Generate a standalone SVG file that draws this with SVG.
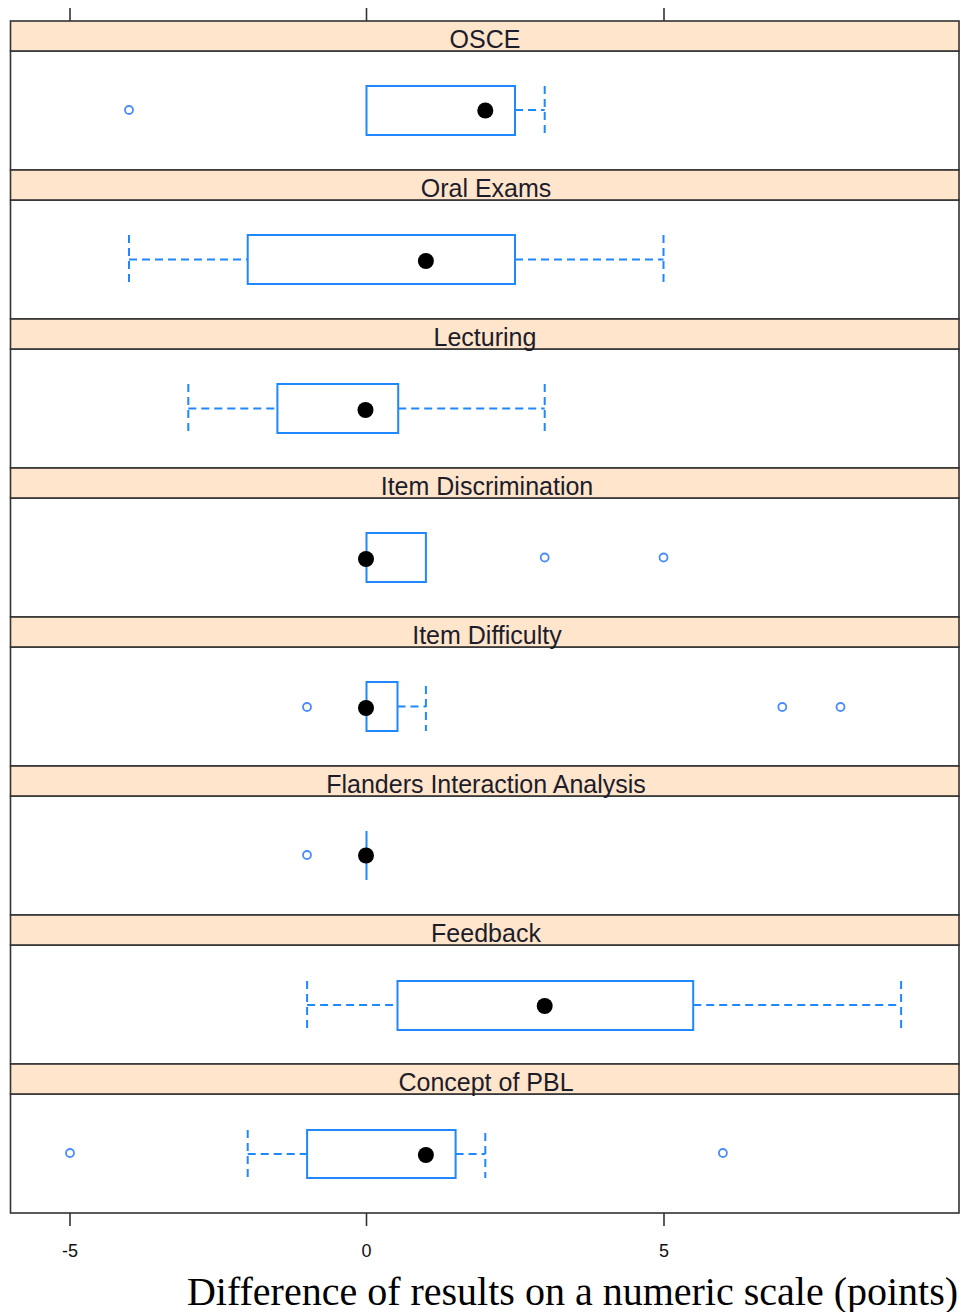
<svg xmlns="http://www.w3.org/2000/svg" width="961" height="1312" viewBox="0 0 961 1312">
<style>
.strip{fill:#FFE5CC;stroke:#333;stroke-width:1.6}
.panel{fill:#fff;stroke:#333;stroke-width:1.6}
.lab{font-family:"Liberation Sans",Arial,sans-serif;font-size:25px;fill:#1c1c2a;text-anchor:middle}
.box{fill:none;stroke:#1f88ff;stroke-width:2}
.wh{fill:none;stroke:#1f88ff;stroke-width:2;stroke-dasharray:8,5}
.out{fill:none;stroke:#4a8cff;stroke-width:1.8}
.med{fill:#000}
.tick{stroke:#333;stroke-width:1.6}
.tl{font-family:"Liberation Sans",Arial,sans-serif;font-size:18px;fill:#111;text-anchor:middle}
.title{font-family:"Liberation Serif","Times New Roman",serif;font-size:40px;fill:#000;text-anchor:middle}
</style>
<rect width="961" height="1312" fill="#fff"/>
<g id="axes">
<line class="tick" x1="70" y1="8" x2="70" y2="21"/>
<line class="tick" x1="366.5" y1="8" x2="366.5" y2="21"/>
<line class="tick" x1="664" y1="8" x2="664" y2="21"/>
<line class="tick" x1="70" y1="1213" x2="70" y2="1226"/>
<line class="tick" x1="366.5" y1="1213" x2="366.5" y2="1226"/>
<line class="tick" x1="664" y1="1213" x2="664" y2="1226"/>
<text class="tl" x="70" y="1257">-5</text>
<text class="tl" x="366.5" y="1257">0</text>
<text class="tl" x="664" y="1257">5</text>
<text class="title" x="572.5" y="1305">Difference of results on a numeric scale (points)</text>
</g>

<g id="panel-osce">
<rect class="panel" x="10.5" y="51" width="948.5" height="119"/>
<rect class="strip" x="10.5" y="21" width="948.5" height="30"/>
<text class="lab" x="485" y="48">OSCE</text>
<circle class="out" cx="129" cy="110" r="4"/>
<rect class="box" x="366.5" y="86" width="148.5" height="49"/>
<line class="wh" x1="515" y1="110" x2="544.7" y2="110"/>
<line class="wh" x1="544.7" y1="86" x2="544.7" y2="135"/>
<circle class="med" cx="485.3" cy="110.5" r="8"/>
</g>

<g id="panel-oral">
<rect class="panel" x="10.5" y="200" width="948.5" height="119"/>
<rect class="strip" x="10.5" y="170" width="948.5" height="30"/>
<text class="lab" x="486" y="197">Oral Exams</text>
<line class="wh" x1="129" y1="235" x2="129" y2="284"/>
<line class="wh" x1="129" y1="259.5" x2="247.7" y2="259.5"/>
<rect class="box" x="247.7" y="235" width="267.3" height="49"/>
<line class="wh" x1="515" y1="259.5" x2="663.5" y2="259.5"/>
<line class="wh" x1="663.5" y1="235" x2="663.5" y2="284"/>
<circle class="med" cx="425.9" cy="261" r="8"/>
</g>

<g id="panel-lecturing">
<rect class="panel" x="10.5" y="349" width="948.5" height="119"/>
<rect class="strip" x="10.5" y="319" width="948.5" height="30"/>
<text class="lab" x="485" y="346">Lecturing</text>
<line class="wh" x1="188.3" y1="384" x2="188.3" y2="433"/>
<line class="wh" x1="188.3" y1="408.5" x2="277.4" y2="408.5"/>
<rect class="box" x="277.4" y="384" width="120.8" height="49"/>
<line class="wh" x1="398.2" y1="408.5" x2="544.7" y2="408.5"/>
<line class="wh" x1="544.7" y1="384" x2="544.7" y2="433"/>
<circle class="med" cx="365.5" cy="410" r="8"/>
</g>

<g id="panel-item-discrimination">
<rect class="panel" x="10.5" y="498" width="948.5" height="119"/>
<rect class="strip" x="10.5" y="468" width="948.5" height="30"/>
<text class="lab" x="487" y="495">Item Discrimination</text>
<rect class="box" x="366.5" y="533" width="59.4" height="49"/>
<circle class="out" cx="544.7" cy="557.5" r="4"/>
<circle class="out" cx="663.5" cy="557.5" r="4"/>
<circle class="med" cx="366" cy="559" r="8"/>
</g>

<g id="panel-item-difficulty">
<rect class="panel" x="10.5" y="647" width="948.5" height="119"/>
<rect class="strip" x="10.5" y="617" width="948.5" height="30"/>
<text class="lab" x="487" y="644">Item Difficulty</text>
<circle class="out" cx="307" cy="707" r="4"/>
<rect class="box" x="366.5" y="682" width="31" height="49"/>
<line class="wh" x1="397.5" y1="706.5" x2="425.9" y2="706.5"/>
<line class="wh" x1="425.9" y1="686" x2="425.9" y2="731"/>
<circle class="out" cx="782.3" cy="707" r="4"/>
<circle class="out" cx="840.5" cy="707" r="4"/>
<circle class="med" cx="366" cy="708" r="8"/>
</g>

<g id="panel-flanders">
<rect class="panel" x="10.5" y="796" width="948.5" height="119"/>
<rect class="strip" x="10.5" y="766" width="948.5" height="30"/>
<text class="lab" x="486" y="793">Flanders Interaction Analysis</text>
<circle class="out" cx="307" cy="855" r="4"/>
<line class="box" x1="366.5" y1="831" x2="366.5" y2="880"/>
<circle class="med" cx="366" cy="855.5" r="8"/>
</g>

<g id="panel-feedback">
<rect class="panel" x="10.5" y="945" width="948.5" height="119"/>
<rect class="strip" x="10.5" y="915" width="948.5" height="30"/>
<text class="lab" x="486" y="942">Feedback</text>
<line class="wh" x1="307.1" y1="981" x2="307.1" y2="1030"/>
<line class="wh" x1="307.1" y1="1005" x2="397.5" y2="1005"/>
<rect class="box" x="397.5" y="981" width="295.7" height="49"/>
<line class="wh" x1="693.2" y1="1005" x2="901.1" y2="1005"/>
<line class="wh" x1="901.1" y1="981" x2="901.1" y2="1030"/>
<circle class="med" cx="544.7" cy="1006" r="8"/>
</g>

<g id="panel-concept-pbl">
<rect class="panel" x="10.5" y="1094" width="948.5" height="119"/>
<rect class="strip" x="10.5" y="1064" width="948.5" height="30"/>
<text class="lab" x="486" y="1091">Concept of PBL</text>
<circle class="out" cx="70" cy="1153" r="4"/>
<line class="wh" x1="247.7" y1="1130" x2="247.7" y2="1178"/>
<line class="wh" x1="247.7" y1="1154" x2="307.1" y2="1154"/>
<rect class="box" x="307.1" y="1130" width="148.5" height="48"/>
<line class="wh" x1="455.6" y1="1154" x2="485.3" y2="1154"/>
<line class="wh" x1="485.3" y1="1133" x2="485.3" y2="1178"/>
<circle class="out" cx="722.9" cy="1153" r="4"/>
<circle class="med" cx="425.9" cy="1155" r="8"/>
</g>
</svg>
